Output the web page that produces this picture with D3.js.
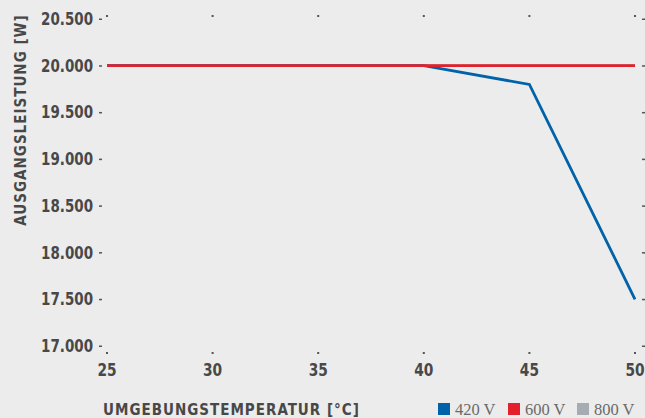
<!DOCTYPE html>
<html>
<head>
<meta charset="utf-8">
<script src="https://cdn.jsdelivr.net/npm/d3@7"></script>
<style>
  html, body { margin: 0; padding: 0; background: #ececec; }
  svg { display: block; }
  .tick-label { font-family: "DejaVu Sans Condensed", "DejaVu Sans", sans-serif; font-weight: bold; fill: #484848; }
  .axis-title { font-family: "DejaVu Sans Condensed", "DejaVu Sans", sans-serif; font-weight: bold; fill: #484848; letter-spacing: 1px; }
  .legend-text { font-family: "Liberation Serif", "DejaVu Serif", serif; fill: #6a6a6a; }
</style>
</head>
<body>
<svg id="chart" width="645" height="418"></svg>
<script>
// temperatures (°C)
const temps = [25, 30, 35, 40, 45, 50];
// output power per string voltage (W)
const power420 = [20000, 20000, 20000, 20000, 19800, 17500];
const power600 = [20000, 20000, 20000, 20000, 20000, 20000];
const power800 = [20000, 20000, 20000, 20000, 20000, 20000];

const yTicks = [17000, 17500, 18000, 18500, 19000, 19500, 20000, 20500];
const seriesNames = ["420 V", "600 V", "800 V"];
const colors = ["#0062a8", "#e3202b", "#a6acb1"];

const svg = d3.select("#chart");

const x = d3.scaleLinear().domain([25, 50]).range([107, 635]);
const y = d3.scaleLinear().domain([17000, 20500]).range([346, 19]);

const fmt = d => d3.format(",")(d).replace(/,/g, ".");

// y tick labels (slightly squeezed) + small dash marks on both sides
yTicks.forEach(t => {
  svg.append("text")
    .attr("class", "tick-label")
    .attr("transform", `translate(93,${y(t) + 6}) scale(0.88,1)`)
    .attr("text-anchor", "end")
    .style("font-size", "17px")
    .text(fmt(t));
  svg.append("rect")
    .attr("x", 99).attr("y", y(t) - 0.5)
    .attr("width", 3).attr("height", 1.5)
    .attr("fill", "#555");
  svg.append("rect")
    .attr("x", 642).attr("y", y(t) - 0.5)
    .attr("width", 3).attr("height", 1.5)
    .attr("fill", "#555");
});

// x tick labels + small dots top and bottom
temps.forEach(t => {
  svg.append("text")
    .attr("class", "tick-label")
    .attr("transform", `translate(${x(t)},376) scale(0.9,1)`)
    .attr("text-anchor", "middle")
    .style("font-size", "17px")
    .text(t);
  svg.append("rect")
    .attr("x", x(t) - 1).attr("y", 352)
    .attr("width", 2).attr("height", 2)
    .attr("fill", "#555");
  svg.append("rect")
    .attr("x", x(t) - 1).attr("y", 15)
    .attr("width", 2).attr("height", 2)
    .attr("fill", "#555");
});

// axis titles
svg.append("text")
  .attr("class", "axis-title")
  .attr("transform", "translate(26,120) rotate(-90)")
  .attr("text-anchor", "middle")
  .style("font-size", "15px")
  .text("AUSGANGSLEISTUNG [W]");

svg.append("text")
  .attr("class", "axis-title")
  .attr("x", 103)
  .attr("y", 415)
  .style("font-size", "15px")
  .text("UMGEBUNGSTEMPERATUR [°C]");

// lines: gray underneath, then blue, red on top
const line = d3.line().x((d, i) => x(temps[i])).y(d => y(d));
[[power800, colors[2]], [power420, colors[0]], [power600, colors[1]]].forEach(([vals, c]) => {
  svg.append("path")
    .datum(vals)
    .attr("d", line)
    .attr("fill", "none")
    .attr("stroke", c)
    .attr("stroke-width", 2.8)
    .attr("stroke-linejoin", "miter");
});

// legend
const legendX = [438, 508, 577];
seriesNames.forEach((name, i) => {
  svg.append("rect")
    .attr("x", legendX[i]).attr("y", 403)
    .attr("width", 12).attr("height", 12)
    .attr("fill", colors[i]);
  svg.append("text")
    .attr("class", "legend-text")
    .attr("x", legendX[i] + 17)
    .attr("y", 415)
    .style("font-size", "16.5px")
    .text(name);
});
</script>
</body>
</html>
